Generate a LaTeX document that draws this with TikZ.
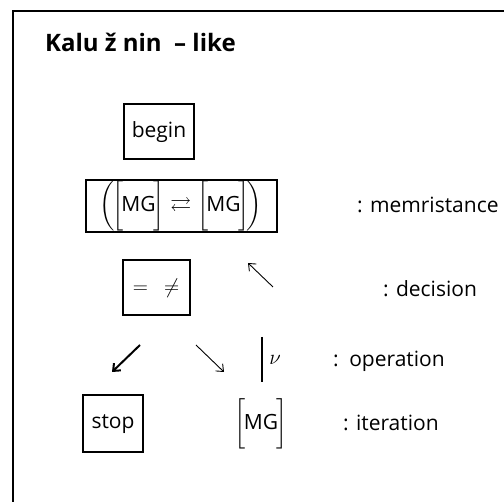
\RequirePackage{fix-cm}
\documentclass[tikz,border=0pt]{standalone}
\usepackage{amsmath}
\usepackage{amssymb}
\usepackage{fontspec}
\setmainfont{Open Sans}
\usetikzlibrary{arrows.meta}

\newcommand{\mgbox}{\bigg[\hspace{-2pt}\text{MG}\hspace{-2pt}\bigg]}

\begin{document}
\begin{tikzpicture}[x=1pt, y=-1pt,
    box/.style={draw, line width=2pt, inner sep=0pt, font=\fontsize{21}{25}\selectfont},
    lbl/.style={anchor=base west, inner sep=0pt, font=\fontsize{21}{25}\selectfont},
    sym/.style={inner sep=0pt, font=\fontsize{21}{25}\selectfont},
    symarrow/.style={-{Straight Barb[length=6pt,width=10pt]}, line width=0.9pt}]
  \useasboundingbox (0,0) rectangle (504,502);
  % outer frame, runs off the page on the right and at the bottom
  \draw[line width=2.2pt] (13,520) |- (520,11);
  \node[lbl, font=\fontsize{24}{28}\selectfont\bfseries] (title) at (45,52) {Kalu ž nin~ – like};

  % flow symbols
  \node[box, minimum width=70pt, minimum height=55pt] (begin) at (159,132) {begin};
  \node[box, minimum width=191pt, minimum height=52pt] (memr) at (181,206)
    {$\bigg(\hspace{-3pt}\mgbox \rightleftarrows \mgbox\hspace{-3pt}\bigg)$\hspace{6pt}};
  \node[box, minimum width=67pt, minimum height=55pt] (decide) at (156,288) {$=\hspace{16pt}\neq$};
  \node[box, minimum width=60pt, minimum height=57pt] (stop) at (113,424) {stop};
  \node[sym] (iter) at (261,424) {$\mgbox$};
  \node[sym] (nu) at (275,360) {$\nu$};

  % arrows and the bar
  \coordinate (nwtail) at (273,287);
  \coordinate (nwhead) at (248,263);
  \coordinate (swtail) at (140,345);
  \coordinate (swhead) at (112,372);
  \coordinate (setail) at (196,345);
  \coordinate (sehead) at (224,372);
  \coordinate (bartop) at (262,337);
  \coordinate (barbot) at (262,382);
  \draw[symarrow] (nwtail) -- (nwhead);
  \draw[symarrow, line width=2pt] (swtail) -- (swhead);
  \draw[symarrow] (setail) -- (sehead);
  \draw[line width=2.5pt] (bartop) -- (barbot);

  % legend
  \node[lbl] (meml) at (357,213) {: memristance};
  \node[lbl] (decl) at (383,297) {: decision};
  \node[lbl] (opl) at (333,367) {:\hspace{0.5em}operation};
  \node[lbl] (iterl) at (343,431) {: iteration};
\end{tikzpicture}
\end{document}
